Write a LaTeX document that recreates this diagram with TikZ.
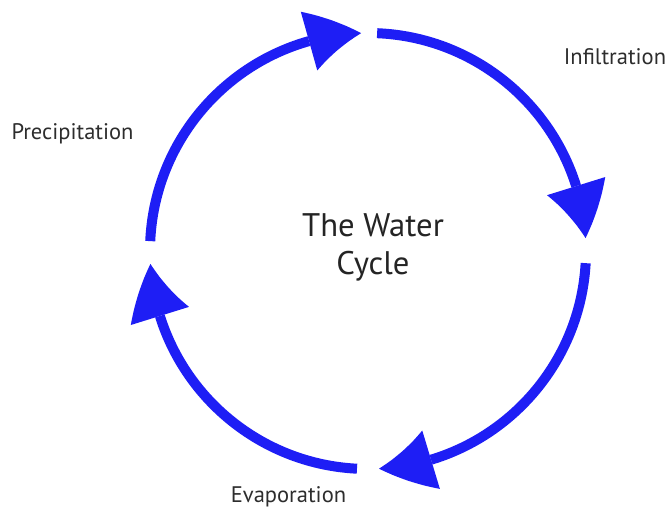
\documentclass[tikz,border=0pt]{standalone}
\usepackage{fontspec}
\setmainfont{PT Sans}
\usetikzlibrary{arrows.meta,bending}
\definecolor{cycleblue}{RGB}{30,30,245}
\definecolor{labelgray}{RGB}{45,45,45}
\tikzset{
	cyclearrow/.style={line width=7.5, color=cycleblue, -{Triangle[length=40.5pt, width=45.75pt, line width=0pt, bend]}},
	steplabel/.style={text=labelgray, font=\fontsize{16.9}{19}\selectfont, anchor=base},
	titletext/.style={text=labelgray!80!black, align=center, font=\fontsize{24.5}{28.5}\selectfont},
}

\begin{document}
\begin{tikzpicture}[x=0.75pt, y=0.75pt]
			%%%%% START %%%%%
			
			\useasboundingbox (0, 0) rectangle (667, 507);
			\coordinate (c) at (368, 256);
			
			\draw[cyclearrow] ([shift={(177.4:218)}]c) arc (177.4:91.8:218);
			\draw[cyclearrow] ([shift={(87.6:218)}]c) arc (87.6:3.4:218);
			\draw[cyclearrow] ([shift={(-3.2:218)}]c) arc (-3.2:-87.1:218);
			\draw[cyclearrow] ([shift={(267.1:218)}]c) arc (267.1:183.4:218);
			
			\node[titletext] (title) at (373, 260) {The Water\\Cycle};
			
			\node[steplabel] (infiltration) at (615, 442) {Infiltration};
			\node[steplabel] (precipitation) at (72.5, 367) {Precipitation};
			\node[steplabel] (evaporation) at (288.5, 5) {Evaporation};
			
			%%%%% END %%%%%
\end{tikzpicture}
\end{document}
